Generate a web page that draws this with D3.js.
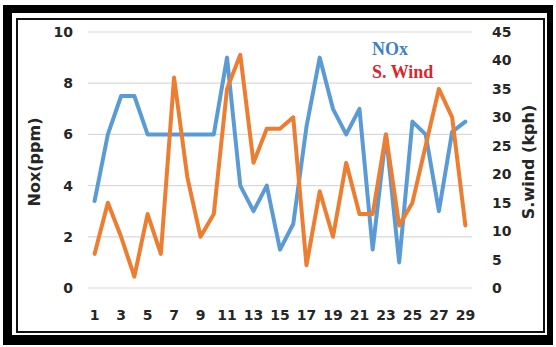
<!DOCTYPE html>
<html>
<head>
<meta charset="utf-8">
<script src="https://cdn.jsdelivr.net/npm/d3@7"></script>
<style>
  html, body { margin: 0; padding: 0; background: #fff; }
  svg { display: block; }
</style>
</head>
<body>
<svg id="chart" width="556" height="347"></svg>
<script>
// Daily observations (day of month)
const days = d3.range(1, 30);
// NOx concentration, ppm (left axis)
const noxValues = [3.4, 6, 7.5, 7.5, 6, 6, 6, 6, 6, 6, 9, 4, 3, 4, 1.5, 2.5, 6.3, 9, 7, 6, 7, 1.5, 6, 1, 6.5, 6, 3, 6.1, 6.5];
// Surface wind speed, kph (right axis)
const windValues = [6, 15, 9, 2, 13, 6, 37, 19.5, 9, 13, 35, 41, 22, 28, 28, 30, 4, 17, 9, 22, 13, 13, 27, 11, 15, 25, 35, 30, 11];
// Axis ticks
const leftTicks = [0, 2, 4, 6, 8, 10];
const rightTicks = [0, 5, 10, 15, 20, 25, 30, 35, 40, 45];
const xTickLabels = days.filter(d => d % 2 === 1);

const svg = d3.select("#chart");
const W = 556, H = 347;

// Frame: thick black border with a thin inner rule
svg.append("rect").attr("x", 3).attr("y", 5).attr("width", 550).attr("height", 340).attr("fill", "#000");
svg.append("rect").attr("x", 12).attr("y", 13).attr("width", 535).attr("height", 322).attr("fill", "#fff");
svg.append("rect").attr("x", 17).attr("y", 19).attr("width", 527).attr("height", 313)
  .attr("fill", "none").attr("stroke", "#111").attr("stroke-width", 2);

const plot = { left: 88, right: 472, top: 32, bottom: 288 };

const x = d3.scaleBand().domain(days).range([plot.left, plot.right]);
const cx = d => x(d) + x.bandwidth() / 2;
const yL = d3.scaleLinear().domain([0, 10]).range([plot.bottom, plot.top]);
const yR = d3.scaleLinear().domain([0, 45]).range([plot.bottom, plot.top]);

const tickFont = "DejaVu Sans, sans-serif";

// Horizontal gridlines
svg.append("g").selectAll("line").data(leftTicks).join("line")
  .attr("x1", plot.left).attr("x2", plot.right)
  .attr("y1", d => yL(d)).attr("y2", d => yL(d))
  .attr("stroke", "#d9d9d9").attr("stroke-width", 1.2);

// Left axis
const gL = svg.append("g").attr("transform", `translate(${plot.left},0)`)
  .call(d3.axisLeft(yL).tickValues(leftTicks).tickSize(0).tickPadding(15));
// Right axis
const gR = svg.append("g").attr("transform", `translate(${plot.right},0)`)
  .call(d3.axisRight(yR).tickValues(rightTicks).tickSize(0).tickPadding(20));
// Category axis
const gX = svg.append("g").attr("transform", `translate(0,${plot.bottom})`)
  .call(d3.axisBottom(x).tickValues(xTickLabels).tickSize(0).tickPadding(22));

[gL, gR, gX].forEach(g => {
  g.select(".domain").remove();
  g.selectAll("text")
    .attr("font-family", tickFont).attr("font-weight", "bold")
    .attr("font-size", 14).attr("fill", "#262626");
});

// Axis titles
svg.append("text")
  .attr("transform", `translate(40,162) rotate(-90)`)
  .attr("text-anchor", "middle")
  .attr("font-family", tickFont).attr("font-weight", "bold").attr("font-size", 16)
  .attr("fill", "#262626")
  .text("Nox(ppm)");
svg.append("text")
  .attr("transform", `translate(534,162) rotate(-90)`)
  .attr("text-anchor", "middle")
  .attr("font-family", tickFont).attr("font-weight", "bold").attr("font-size", 16)
  .attr("fill", "#262626")
  .text("S.wind (kph)");

// Series lines
const lineL = d3.line().x((d, i) => cx(days[i])).y(d => yL(d));
const lineR = d3.line().x((d, i) => cx(days[i])).y(d => yR(d));

svg.append("path").datum(noxValues)
  .attr("d", lineL).attr("fill", "none")
  .attr("stroke", "#5b9bd5").attr("stroke-width", 4)
  .attr("stroke-linejoin", "round").attr("stroke-linecap", "round");

svg.append("path").datum(windValues)
  .attr("d", lineR).attr("fill", "none")
  .attr("stroke", "#ed7d31").attr("stroke-width", 4)
  .attr("stroke-linejoin", "round").attr("stroke-linecap", "round");

// Legend labels
svg.append("text").attr("x", 372).attr("y", 55)
  .attr("font-family", "Liberation Serif, serif").attr("font-weight", "bold").attr("font-size", 18)
  .attr("fill", "#3f7fc4").text("NOx");
svg.append("text").attr("x", 372).attr("y", 78)
  .attr("font-family", "Liberation Serif, serif").attr("font-weight", "bold").attr("font-size", 18)
  .attr("fill", "#d7282f").text("S. Wind");
</script>
</body>
</html>
